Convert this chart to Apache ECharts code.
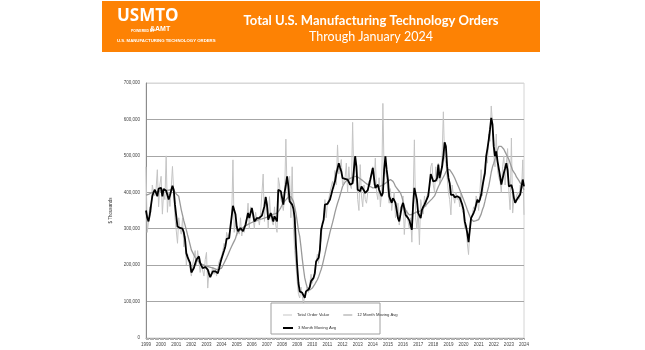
<!DOCTYPE html>
<html>
<head>
<meta charset="utf-8">
<script src="https://cdn.jsdelivr.net/npm/echarts@6/dist/echarts.min.js"></script>
<style>
html, body { margin: 0; padding: 0; background: #fff; }
#main { width: 645px; height: 350px; }
</style>
</head>
<body>
<div id="main"></div>
<script>
// values in $ millions (axis is $ thousands, labels add ",000")
var years = [1999, 2000, 2001, 2002, 2003, 2004, 2005, 2006, 2007, 2008, 2009, 2010, 2011,
    2012, 2013, 2014, 2015, 2016, 2017, 2018, 2019, 2020, 2021, 2022, 2023, 2024];

var totalOrders = [
    470, 290, 320, 360, 345, 420, 400, 390, 410, 462, 360, 420,
    444, 340, 400, 380, 500, 345, 400, 361, 410, 471, 400, 330,
    330, 260, 330, 300, 285, 330, 250, 280, 200, 230, 230, 190,
    170, 200, 205, 240, 200, 240, 245, 180, 200, 200, 170, 215,
    235, 137, 185, 170, 180, 195, 175, 190, 170, 165, 210, 205,
    225, 240, 260, 245, 290, 275, 270, 300, 330, 489, 290, 330,
    280, 300, 285, 330, 280, 300, 290, 320, 330, 370, 300, 360,
    365, 330, 300, 345, 320, 330, 310, 345, 340, 450, 320, 390,
    370, 300, 388, 330, 320, 310, 360, 310, 290, 440, 420, 380,
    370, 350, 390, 546, 400, 380, 444, 330, 470, 310, 240, 200,
    155, 120, 110, 140, 115, 95, 120, 130, 140, 125, 150, 175,
    150, 165, 190, 210, 230, 205, 250, 270, 310, 320, 380, 330,
    370, 380, 400, 395, 430, 410, 460, 420, 530, 450, 470, 490,
    420, 430, 440, 480, 400, 470, 420, 410, 592, 430, 480, 470,
    380, 350, 476, 390, 360, 420, 380, 370, 400, 430, 420, 450,
    470, 420, 494, 400, 380, 440, 360, 400, 644, 450, 460, 440,
    400, 370, 410, 350, 380, 400, 330, 340, 370, 310, 360, 350,
    390, 284, 340, 350, 320, 300, 330, 263, 380, 544, 330, 300,
    350, 256, 380, 360, 340, 390, 360, 390, 400, 410, 470, 480,
    420, 400, 470, 430, 480, 420, 440, 500, 621, 490, 480, 440,
    400, 380, 338, 420, 390, 370, 400, 380, 390, 360, 400, 350,
    340, 300, 310, 260, 229, 300, 330, 340, 360, 350, 390, 380,
    350, 400, 462, 390, 440, 470, 500, 480, 560, 540, 637, 590,
    500, 470, 560, 460, 440, 430, 400, 470, 500, 420, 480, 520,
    400, 352, 549, 343, 380, 370, 390, 400, 380, 420, 400, 489,
    338
];

var movingAvg12 = [
    392, 393, 394, 396, 398, 400, 401, 401, 402, 402, 403, 403,
    404, 404, 405, 405, 405, 406, 406, 406, 407, 407, 406, 402,
    395, 392, 389, 370, 352, 337, 322, 310, 297, 283, 270, 256,
    242, 235, 228, 221, 215, 212, 209, 206, 203, 201, 200, 198,
    197, 196, 195, 194, 193, 192, 191, 190, 188, 188, 189, 190,
    192, 199, 206, 213, 220, 228, 236, 244, 252, 259, 266, 273,
    285, 290, 294, 297, 300, 303, 306, 308, 310, 312, 314, 316,
    317, 318, 320, 321, 323, 325, 326, 327, 327, 328, 329, 330,
    332, 334, 336, 338, 339, 340, 341, 342, 343, 346, 352, 358,
    365, 371, 375, 379, 383, 387, 389, 388, 384, 375, 360, 343,
    320, 295, 279, 250, 218, 190, 165, 150, 138, 133, 132, 134,
    137, 142, 148, 154, 160, 168, 178, 188, 200, 215, 230, 246,
    261, 275, 290, 303, 316, 330, 345, 358, 370, 380, 392, 404,
    416, 422, 428, 432, 435, 437, 438, 440, 441, 443, 444, 443,
    442, 440, 437, 435, 432, 429, 426, 423, 421, 418, 416, 414,
    412, 412, 413, 414, 415, 416, 417, 418, 420, 422, 425, 428,
    430, 433, 435, 433, 430, 424, 416, 412, 407, 402, 398, 388,
    375, 361, 352, 346, 341, 338, 338, 339, 341, 343, 344, 346,
    345, 347, 349, 352, 356, 360, 364, 368, 371, 375, 379, 382,
    384, 390, 398, 407, 415, 422, 429, 435, 439, 448, 456, 462,
    462, 462, 458, 452, 446, 439, 431, 423, 415, 407, 398, 389,
    380, 371, 362, 352, 343, 334, 327, 322, 320, 320, 322, 325,
    325, 330, 340, 352, 361, 375, 390, 403, 416, 435, 455, 470,
    480, 492, 505, 516, 526, 527, 526, 525, 518, 511, 504, 497,
    490, 480, 470, 460, 455, 450, 442, 437, 432, 426, 420, 414,
    407
];

var movingAvg3 = [
    350, 330, 320, 338, 365, 389, 400, 407, 403, 389, 410, 411,
    412, 389, 409, 407, 404, 400, 380, 391, 405, 418, 407, 366,
    335, 306, 304, 302, 301, 300, 290, 270, 233, 222, 214, 206,
    180, 186, 192, 204, 215, 220, 224, 206, 198, 192, 194, 195,
    192, 188, 176, 167, 175, 183, 183, 183, 180, 178, 190, 206,
    218, 229, 240, 252, 272, 273, 274, 305, 334, 363, 360, 340,
    306, 293, 288, 302, 298, 293, 302, 311, 327, 343, 329, 343,
    357, 340, 320, 325, 329, 325, 330, 334, 336, 338, 362, 387,
    366, 325, 334, 343, 332, 320, 334, 327, 320, 407, 405, 403,
    385, 366, 400, 420, 444, 416, 375, 370, 366, 355, 330, 255,
    197, 151, 128, 126, 124, 124, 110, 128, 130, 133, 140, 156,
    160, 165, 178, 210, 215, 220, 242, 297, 312, 325, 366, 371,
    368, 366, 380, 393, 407, 412, 430, 450, 465, 480, 468, 457,
    439, 438, 437, 436, 435, 428, 421, 423, 425, 462, 499, 471,
    407, 405, 403, 416, 412, 405, 398, 403, 406, 410, 435, 451,
    467, 439, 412, 417, 421, 407, 398, 389, 398, 462, 499, 462,
    435, 389, 380, 371, 384, 378, 371, 350, 329, 320, 340, 361,
    371, 355, 338, 333, 329, 323, 310, 297, 366, 412, 407, 380,
    343, 336, 329, 352, 360, 366, 366, 382, 390, 420, 450, 453,
    430, 425, 432, 439, 476, 439, 444, 470, 499, 537, 526, 471,
    440, 425, 393, 389, 393, 386, 384, 389, 389, 385, 380, 366,
    352, 320, 306, 288, 263, 297, 329, 336, 343, 352, 366, 380,
    372, 380, 393, 416, 435, 453, 499, 520, 544, 572, 604, 586,
    526, 499, 512, 485, 465, 444, 421, 437, 453, 466, 480, 460,
    416, 418, 420, 407, 384, 371, 378, 384, 389, 394, 398, 435,
    416
];

var months = [];
years.forEach(function (y) {
    for (var m = 1; m <= 12; m++) {
        if (y === 2024 && m > 1) break;
        months.push(y + '-' + m);
    }
});

var chart = echarts.init(document.getElementById('main'));

var option = {
    animation: false,
    textStyle: { fontFamily: 'Liberation Sans' },
    grid: {
        left: 146, right: 121, top: 83, bottom: 12,
        show: true, borderColor: '#d4d4d4', borderWidth: 1
    },
    graphic: [
        // orange header band
        { type: 'rect', shape: { x: 102, y: 1, width: 438, height: 51 }, style: { fill: '#fd8204' }, z: 1 },
        { type: 'text', left: 117, top: 8, style: { text: 'USMTO', fill: '#fff', font: 'bold 17px "Open Sans"' }, z: 2 },
        { type: 'text', left: 131, top: 29, style: { text: 'POWERED BY', fill: '#fff', font: 'bold 3.5px "Liberation Sans"' }, z: 2 },
        { type: 'text', left: 150, top: 26, style: { text: '&AMT', fill: '#fff', font: 'bold 7px "Liberation Sans"' }, z: 2 },
        { type: 'text', left: 117, top: 39, style: { text: 'U.S. MANUFACTURING TECHNOLOGY ORDERS', fill: '#fff', font: 'bold 4.3px "Liberation Sans"' }, z: 2 },
        { type: 'text', x: 371, y: 21, style: { text: 'Total U.S. Manufacturing Technology Orders', fill: '#fff', font: 'bold 13px Lato', align: 'center', verticalAlign: 'middle' }, z: 2 },
        { type: 'text', x: 371, y: 37, style: { text: 'Through January 2024', fill: '#fff', font: '12.5px Lato', align: 'center', verticalAlign: 'middle' }, z: 2 },
        // legend box
        { type: 'rect', shape: { x: 271, y: 303, width: 109, height: 31 }, style: { fill: '#fff', stroke: '#a0a0a0', lineWidth: 1 }, z: 100 }
    ],
    legend: [
        {
            data: ['Total Order Value', '12 Month Moving Avg'],
            left: 278, top: 308, itemGap: 14, itemWidth: 9, itemHeight: 1, icon: 'rect',
            textStyle: { fontSize: 4.2, color: '#333' }, z: 110
        },
        {
            data: ['3 Month Moving Avg'],
            left: 278, top: 321, itemWidth: 10, itemHeight: 2, icon: 'rect',
            textStyle: { fontSize: 4.2, color: '#333' }, z: 110
        }
    ],
    xAxis: {
        type: 'category',
        data: months,
        boundaryGap: false,
        axisLine: { lineStyle: { color: '#8c8c8c' } },
        axisTick: { interval: 0, length: 2, lineStyle: { color: '#b0b0b0' } },
        axisLabel: {
            interval: function (i) { return i % 12 === 0; },
            formatter: function (v) { return v.split('-')[0]; },
            fontSize: 4.5, color: '#444', margin: 4
        },
        splitLine: { show: false }
    },
    yAxis: {
        type: 'value',
        min: 0, max: 700, interval: 100,
        name: '$ Thousands',
        nameLocation: 'middle',
        nameGap: 28,
        nameRotate: 90,
        nameTextStyle: { fontSize: 4.5, color: '#333' },
        axisLine: { show: true, lineStyle: { color: '#8c8c8c' } },
        axisTick: { show: false },
        axisLabel: {
            fontSize: 4.5, color: '#444', margin: 6,
            formatter: function (v) { return v === 0 ? '0' : v + ',000'; }
        },
        splitLine: { lineStyle: { color: ['#a6a6a6', '#a6a6a6', '#a6a6a6', '#a6a6a6', '#a6a6a6', '#a6a6a6', '#a6a6a6', '#d8d8d8'], width: 1 } }
    },
    series: [
        {
            name: 'Total Order Value', type: 'line', data: totalOrders,
            showSymbol: false, lineStyle: { color: '#c4c4c4', width: 1 }, itemStyle: { color: '#c4c4c4' }, z: 2
        },
        {
            name: '12 Month Moving Avg', type: 'line', data: movingAvg12,
            showSymbol: false, lineStyle: { color: '#9a9a9a', width: 1.3 }, itemStyle: { color: '#9a9a9a' }, z: 3
        },
        {
            name: '3 Month Moving Avg', type: 'line', data: movingAvg3,
            showSymbol: false, lineStyle: { color: '#000', width: 1.8 }, itemStyle: { color: '#000' }, z: 4
        }
    ]
};

chart.setOption(option);
</script>
</body>
</html>
